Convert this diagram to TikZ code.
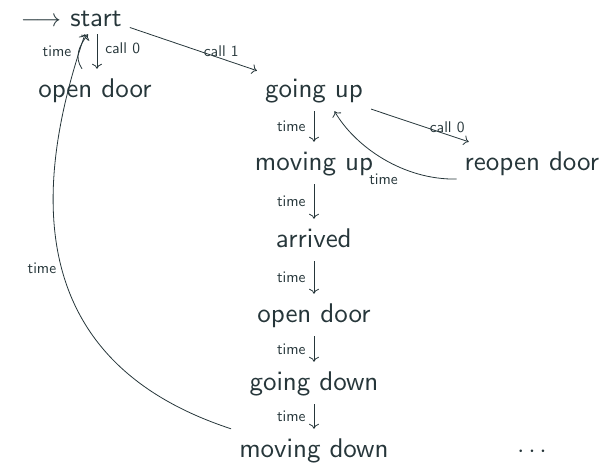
\documentclass[tikz,border=0pt]{standalone}
\usetikzlibrary{arrows.meta}
\font\bigsf=cmss10 at 27pt
\font\lblsf=cmss10 at 15.5pt
\definecolor{ink}{RGB}{38,54,58}
\begin{document}
\begin{tikzpicture}[x=1pt,y=-1pt,
  every node/.style={text=ink},
  state/.style={anchor=base, font=\bigsf, text height=20pt, text depth=6pt, inner sep=8pt},
  lbl/.style={font=\lblsf, inner sep=2pt},
  edge/.style={draw=ink, line width=0.8pt, -{Computer Modern Rightarrow[length=5pt,width=10pt]}}]
\useasboundingbox (0,0) rectangle (615,467);
% nodes
\node[anchor=base, text=ink, inner sep=0pt] (init) at (41,26) {\fontsize{27}{30}\selectfont$\longrightarrow$};
\node[state, text depth=0pt] (start) at (96,26) {start};
\node[state] (od1) at (95,97) {open door};
\node[state] (gu) at (314,97) {going up};
\node[state] (mu) at (314,170) {moving up};
\node[state] (ro) at (532,170) {reopen door};
\node[state] (ar) at (314,247) {arrived};
\node[state] (od2) at (314,322) {open door};
\node[state] (gd) at (314,390) {going down};
\node[state] (md) at (314,457) {moving down};
\node[state, font=\fontsize{27}{30}\selectfont] (dots) at (532,457) {$\cdots$};
% connectors
\draw[edge] ([xshift=1pt]start.south) -- node[lbl, right=6pt, pos=0.4] {call 0} ([xshift=2pt]od1.north);
\draw[edge] ([xshift=-13pt]od1.north) .. controls +(-8,-12) and +(-9,12) .. node[lbl, left=5pt, pos=0.5] {time} ([xshift=-8pt]start.south);
\draw[edge] (start) -- node[lbl, pos=0.72, anchor=south] {call 1} (gu);
\draw[edge] (gu) -- node[lbl, left=6pt] {time} (mu);
\draw[edge] (gu) -- node[lbl, pos=0.78, anchor=south] {call 0} (ro);
\draw[edge] (ro.192) .. controls +(-53,1) and +(21,36) .. node[lbl, pos=0.5, below=13pt] {time} (gu.-46);
\draw[edge] (mu) -- node[lbl, left=6pt] {time} (ar);
\draw[edge] (ar) -- node[lbl, left=6pt] {time} (od2);
\draw[edge] (od2) -- node[lbl, left=6pt] {time} (gd);
\draw[edge] (gd) -- node[lbl, left=6pt] {time} (md);
\draw[edge] (md.north west) .. controls (24,361) and (32,189) .. node[lbl, pos=0.49, left=3pt] {time} ([xshift=-11pt]start.south);
\end{tikzpicture}
\end{document}
